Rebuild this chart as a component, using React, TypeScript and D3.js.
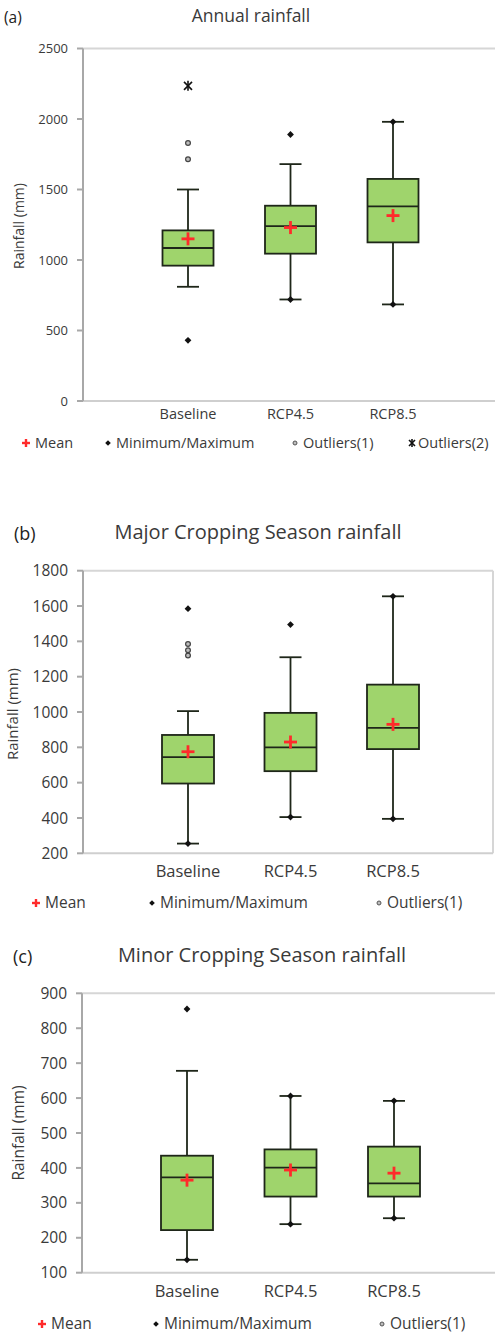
import React from "react";
import * as d3 from "d3";

// ---------- data ----------
const categories = ["Baseline", "RCP4.5", "RCP8.5"];

// (a) Annual rainfall
const q1A = [960, 1045, 1125];
const medA = [1085, 1240, 1380];
const q3A = [1210, 1385, 1575];
const meanA = [1150, 1230, 1315];
const whLoA = [810, 720, 685];
const whHiA = [1500, 1680, 1980];
const minMaxA = [[430], [720, 1890], [685, 1980]];
const out1A = [[1715, 1830], [], []];
const out2A = [[2235], [], []];
const ticksA = [0, 500, 1000, 1500, 2000, 2500];

// (b) Major cropping season
const q1B = [595, 665, 790];
const medB = [745, 800, 910];
const q3B = [870, 995, 1155];
const meanB = [775, 830, 930];
const whLoB = [255, 405, 395];
const whHiB = [1005, 1310, 1655];
const minMaxB = [[255, 1585], [405, 1495], [395, 1655]];
const out1B = [[1320, 1350, 1385], [], []];
const ticksB = [200, 400, 600, 800, 1000, 1200, 1400, 1600, 1800];

// (c) Minor cropping season
const q1C = [222, 318, 318];
const medC = [373, 401, 356];
const q3C = [435, 453, 461];
const meanC = [365, 394, 385];
const whLoC = [137, 239, 256];
const whHiC = [678, 606, 592];
const minMaxC = [[137, 855], [239, 606], [256, 592]];
const out1C = [[], [], []];
const ticksC = [100, 200, 300, 400, 500, 600, 700, 800, 900];

const FONT = "'Open Sans', Lato, sans-serif";
const TXT = "#3a3a3a";
const FILL = "#9fd46c";
const STROKE = "#1e2619";
const RED = "#ff2b2b";

type PanelProps = {
  tag: string;
  title: string;
  titleX: number;
  titleY: number;
  tagX: number;
  titleSize: number;
  q1: number[];
  med: number[];
  q3: number[];
  mean: number[];
  whLo: number[];
  whHi: number[];
  minMax: number[][];
  out1: number[][];
  out2?: number[][];
  ticks: number[];
  axisX: number;
  rightX: number;
  border: boolean;
  yBottom: number;
  yTop: number;
  xFirst: number;
  xLast: number;
  tickSize: number;
  catSize: number;
  catY: number;
  yLabelX: number;
  yLabelY: number;
  yLabelSize: number;
  legendY: number;
  legendSize: number;
  legendX: number[]; // marker x positions
  boxW: number;
};

const diamond = (x: number, y: number, r: number) =>
  `M${x},${y - r}L${x + r},${y}L${x},${y + r}L${x - r},${y}Z`;

function Plus({ x, y, s, w }: { x: number; y: number; s: number; w: number }) {
  return (
    <g stroke={RED} strokeWidth={w}>
      <line x1={x - s} x2={x + s} y1={y} y2={y} />
      <line x1={x} x2={x} y1={y - s} y2={y + s} />
    </g>
  );
}

function Star({ x, y, s }: { x: number; y: number; s: number }) {
  return (
    <g stroke="#111" strokeWidth={1.6}>
      <line x1={x - s} x2={x + s} y1={y - s} y2={y + s} />
      <line x1={x - s} x2={x + s} y1={y + s} y2={y - s} />
      <line x1={x} x2={x} y1={y - s - 1} y2={y + s + 1} />
    </g>
  );
}

function Panel(p: PanelProps) {
  const y = d3
    .scaleLinear()
    .domain([p.ticks[0], p.ticks[p.ticks.length - 1]])
    .range([p.yBottom, p.yTop]);
  const x = d3.scalePoint<string>().domain(categories).range([p.xFirst, p.xLast]);
  const capW = 11;
  const hw = p.boxW / 2;
  const lx = p.legendX;
  const ly = p.legendY;
  return (
    <g fontFamily={FONT}>
      <text x={p.tagX} y={p.titleY + 1} fontSize={p.titleSize - 2} fill="#222">
        {p.tag}
      </text>
      <text x={p.titleX} y={p.titleY} fontSize={p.titleSize} fill={TXT} textAnchor="middle">
        {p.title}
      </text>
      {/* frame */}
      <line x1={p.axisX} x2={p.rightX} y1={p.yTop} y2={p.yTop} stroke="#d6d6d6" strokeWidth={2} />
      {p.border && (
        <line x1={p.rightX} x2={p.rightX} y1={p.yTop} y2={p.yBottom} stroke="#d6d6d6" strokeWidth={2} />
      )}
      <line x1={p.axisX} x2={p.rightX} y1={p.yBottom} y2={p.yBottom} stroke="#cfcfcf" strokeWidth={2} />
      <line x1={p.axisX} x2={p.axisX} y1={p.yTop} y2={p.yBottom} stroke="#a8a8a8" strokeWidth={2} />
      {p.ticks.map((t) => (
        <g key={t}>
          <line x1={p.axisX - 6} x2={p.axisX} y1={y(t)} y2={y(t)} stroke="#a8a8a8" strokeWidth={2} />
          <text
            x={p.axisX - 15}
            y={y(t)}
            dy="0.36em"
            fontSize={p.tickSize}
            fill={TXT}
            textAnchor="end"
          >
            {t}
          </text>
        </g>
      ))}
      <text
        transform={`translate(${p.yLabelX},${p.yLabelY}) rotate(-90)`}
        fontSize={p.yLabelSize}
        fill={TXT}
        textAnchor="middle"
      >
        Rainfall (mm)
      </text>
      {categories.map((c, i) => {
        const cx = x(c) as number;
        return (
          <g key={c}>
            {/* whiskers */}
            <g stroke={STROKE} strokeWidth={1.8}>
              <line x1={cx} x2={cx} y1={y(p.q3[i])} y2={y(p.whHi[i])} />
              <line x1={cx} x2={cx} y1={y(p.q1[i])} y2={y(p.whLo[i])} />
              <line x1={cx - capW} x2={cx + capW} y1={y(p.whHi[i])} y2={y(p.whHi[i])} />
              <line x1={cx - capW} x2={cx + capW} y1={y(p.whLo[i])} y2={y(p.whLo[i])} />
            </g>
            <rect
              x={cx - hw}
              y={y(p.q3[i])}
              width={p.boxW}
              height={y(p.q1[i]) - y(p.q3[i])}
              fill={FILL}
              stroke={STROKE}
              strokeWidth={1.8}
            />
            <line
              x1={cx - hw}
              x2={cx + hw}
              y1={y(p.med[i])}
              y2={y(p.med[i])}
              stroke={STROKE}
              strokeWidth={1.8}
            />
            {p.minMax[i].map((v, k) => (
              <path key={k} d={diamond(cx, y(v), 3.4)} fill="#111" />
            ))}
            {p.out1[i].map((v, k) => (
              <circle key={k} cx={cx} cy={y(v)} r={2.4} fill="#bdbdbd" stroke="#444" strokeWidth={1.2} />
            ))}
            {p.out2 &&
              p.out2[i].map((v, k) => <Star key={k} x={cx} y={y(v)} s={4} />)}
            <Plus x={cx} y={y(p.mean[i])} s={6.5} w={2.8} />
            <text x={cx} y={p.catY} fontSize={p.catSize} fill={TXT} textAnchor="middle">
              {c}
            </text>
          </g>
        );
      })}
      {/* legend */}
      <Plus x={lx[0]} y={ly - 5} s={4} w={2.4} />
      <text x={lx[0] + 9} y={ly} fontSize={p.legendSize} fill={TXT}>
        Mean
      </text>
      <path d={diamond(lx[1], ly - 5, 2.8)} fill="#111" />
      <text x={lx[1] + 8} y={ly} fontSize={p.legendSize} fill={TXT}>
        Minimum/Maximum
      </text>
      <circle cx={lx[2]} cy={ly - 5} r={2} fill="#bdbdbd" stroke="#555" strokeWidth={1} />
      <text x={lx[2] + 8} y={ly} fontSize={p.legendSize} fill={TXT}>
        Outliers(1)
      </text>
      {lx.length > 3 && (
        <>
          <Star x={lx[3]} y={ly - 5} s={3} />
          <text x={lx[3] + 6} y={ly} fontSize={p.legendSize} fill={TXT}>
            Outliers(2)
          </text>
        </>
      )}
    </g>
  );
}

export default function App() {
  return (
    <div style={{ position: "absolute", left: 0, top: 0, background: "#fff" }}>
      <svg width={495} height={1338} style={{ display: "block" }}>
        <rect width={495} height={1338} fill="#fff" />
        <Panel
          tag="(a)"
          title="Annual rainfall"
          titleX={251}
          titleY={21.5}
          tagX={4}
          titleSize={17.5}
          q1={q1A}
          med={medA}
          q3={q3A}
          mean={meanA}
          whLo={whLoA}
          whHi={whHiA}
          minMax={minMaxA}
          out1={out1A}
          out2={out2A}
          ticks={ticksA}
          axisX={83}
          rightX={495}
          border={false}
          yBottom={401}
          yTop={48.5}
          xFirst={188}
          xLast={393}
          tickSize={13}
          catSize={14.5}
          catY={419}
          yLabelX={24}
          yLabelY={226}
          yLabelSize={14}
          legendY={448}
          legendSize={14.5}
          legendX={[26, 108, 295, 412]}
          boxW={51}
        />
        <Panel
          tag="(b)"
          title="Major Cropping Season rainfall"
          titleX={258}
          titleY={539}
          tagX={14}
          titleSize={20}
          q1={q1B}
          med={medB}
          q3={q3B}
          mean={meanB}
          whLo={whLoB}
          whHi={whHiB}
          minMax={minMaxB}
          out1={out1B}
          ticks={ticksB}
          axisX={83}
          rightX={493}
          border={true}
          yBottom={853.3}
          yTop={570.7}
          xFirst={188}
          xLast={393}
          tickSize={15.5}
          catSize={16.5}
          catY={877}
          yLabelX={18}
          yLabelY={714}
          yLabelSize={15}
          legendY={908}
          legendSize={15.5}
          legendX={[36, 152, 379]}
          boxW={52}
        />
        <Panel
          tag="(c)"
          title="Minor Cropping Season rainfall"
          titleX={262}
          titleY={961.5}
          tagX={13}
          titleSize={20}
          q1={q1C}
          med={medC}
          q3={q3C}
          mean={meanC}
          whLo={whLoC}
          whHi={whHiC}
          minMax={minMaxC}
          out1={out1C}
          ticks={ticksC}
          axisX={82}
          rightX={495}
          border={false}
          yBottom={1272.7}
          yTop={993.3}
          xFirst={187}
          xLast={394}
          tickSize={15.5}
          catSize={16.5}
          catY={1296.5}
          yLabelX={24}
          yLabelY={1133}
          yLabelSize={15.5}
          legendY={1329}
          legendSize={15.5}
          legendX={[42, 156, 382]}
          boxW={52}
        />
      </svg>
    </div>
  );
}
